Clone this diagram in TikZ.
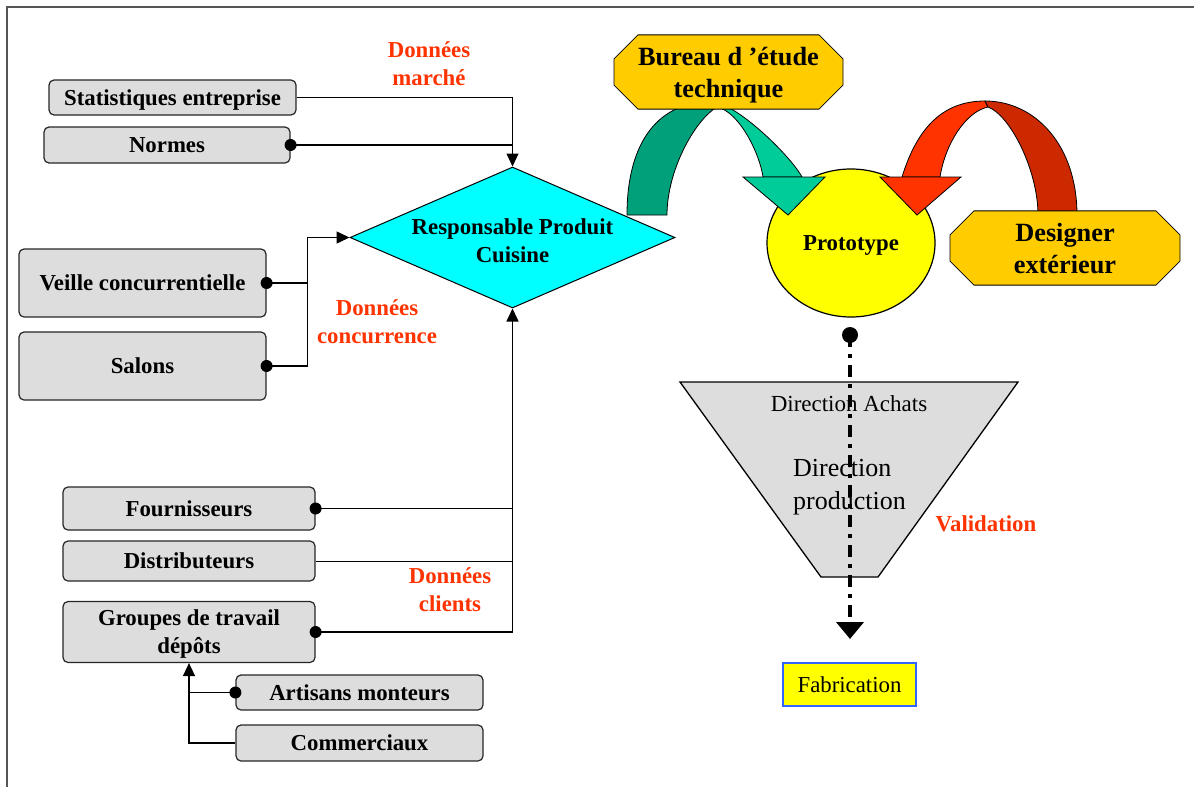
\documentclass[tikz,border=0pt]{standalone}
\usepackage{fontspec}
\setmainfont{Liberation Serif}
\usetikzlibrary{arrows.meta,shapes.geometric,shapes.misc}
\definecolor{boxgray}{HTML}{DDDDDD}
\definecolor{labelred}{HTML}{FF3300}
\definecolor{teallight}{HTML}{00CC99}
\definecolor{tealdark}{HTML}{00A07A}
\definecolor{redlight}{HTML}{FF3300}
\definecolor{reddark}{HTML}{CC2900}
\definecolor{gold}{HTML}{FFCC00}
\definecolor{framegray}{HTML}{555555}
\definecolor{fabblue}{HTML}{3366FF}
\definecolor{protoyellow}{HTML}{FFFF00}
\definecolor{rpcyan}{HTML}{00FFFF}

\begin{document}
\begin{tikzpicture}[x=1pt,y=-1pt,
  src/.style={draw=black!85, line width=1.2pt, fill=boxgray, rounded corners=5pt,
    inner sep=0pt, align=center, text depth=0pt,
    font=\fontsize{22.8}{28}\selectfont\bfseries},
  octo/.style={chamfered rectangle, chamfered rectangle xsep=12pt,
    chamfered rectangle ysep=12pt, draw=black, line width=0.8pt, fill=gold,
    inner sep=0pt, align=center, text depth=0pt,
    font=\fontsize{26.3}{32}\selectfont\bfseries},
  note/.style={text=labelred, align=center, inner sep=0pt,
    font=\fontsize{22.8}{28}\selectfont\bfseries},
  wire/.style={line width=1.5pt},
  thinwire/.style={line width=1pt},
  tip/.style={-{Triangle[length=13pt,width=12pt]}},
  ribbon/.style={draw=black, line width=0.8pt},
]
\useasboundingbox (0,0) rectangle (1194,787);

% page frame (top and left edges)
\draw[framegray, line width=1.4pt] (7,787) -- (7,7) -- (1194,7);

% prototype
\node[ellipse, draw=black, line width=1.2pt, fill=protoyellow, minimum width=168pt,
  minimum height=148pt, inner sep=0pt, text depth=0pt,
  font=\fontsize{22.8}{28}\selectfont\bfseries]
  (proto) at (851,243) {Prototype};

% curved arrow from the technical office: back face, front face, head
\fill[tealdark, ribbon]
  (627,215) .. controls (627,140) and (660,101) .. (712,102)
  -- (717,107) .. controls (695,120) and (667,170) .. (667,215) -- cycle;
\fill[teallight, ribbon]
  (712,102) .. controls (735,102) and (790,155) .. (802,177)
  -- (763,177) .. controls (760,155) and (740,112) .. (717,107) -- cycle;
\fill[teallight, ribbon] (743,177) -- (825,177) -- (788,215) -- cycle;

% curved arrow from the external designer: front face, back face, head
\fill[redlight, ribbon]
  (902,177) .. controls (918,125) and (945,101) .. (985,101)
  -- (988,107) .. controls (965,112) and (945,145) .. (940,177) -- cycle;
\fill[reddark, ribbon]
  (985,101) .. controls (1035,101) and (1077,145) .. (1077,215)
  -- (1038,215) .. controls (1038,170) and (1010,115) .. (988,107) -- cycle;
\fill[redlight, ribbon] (880,177) -- (961,177) -- (917,215) -- cycle;

% offices
\node[octo, minimum width=229pt, minimum height=67pt] (bureau) at (728.5,72)
  {Bureau d ’étude\\technique};
\node[octo, minimum width=230pt, minimum height=68pt] (designer) at (1065,248)
  {Designer\\extérieur};

% product manager
\node[diamond, draw=black, line width=1pt, fill=rpcyan, minimum width=325pt,
  minimum height=141pt, inner sep=0pt,
  label={[align=center, yshift=-3pt, font=\fontsize{22.8}{28}\selectfont\bfseries]center:Responsable Produit\\Cuisine}]
  (rp) at (512.5,237.5) {};

% information sources
\node[src, minimum width=247pt, minimum height=35pt] (stats) at (172.5,97.5) {Statistiques entreprise};
\node[src, minimum width=246pt, minimum height=36pt] (normes) at (167,145) {Normes};
\node[src, minimum width=247pt, minimum height=68pt] (veille) at (142.5,283) {Veille concurrentielle};
\node[src, minimum width=247pt, minimum height=68pt] (salons) at (142.5,366) {Salons};
\node[src, minimum width=252pt, minimum height=43pt] (fourn) at (189,508.5) {Fournisseurs};
\node[src, minimum width=252pt, minimum height=40pt] (distrib) at (189,561) {Distributeurs};
\node[src, minimum width=252pt, minimum height=61pt] (groupes) at (189,632) {Groupes de travail\\dépôts};
\node[src, minimum width=247pt, minimum height=35pt] (artisans) at (359.5,692.5) {Artisans monteurs};
\node[src, minimum width=247pt, minimum height=36pt] (comm) at (359.5,743) {Commerciaux};

% market data
\draw[thinwire, tip] (stats.east) -| (rp.north);
\draw[wire] (normes.east) -- (normes.east -| rp.north);
\fill (normes.east) circle[radius=6pt];

% competition data
\draw[wire] (veille.east) -- ++(41,0);
\draw[wire, tip] (salons.east) -- ++(41,0) |- (rp.west);
\fill (veille.east) circle[radius=6pt];
\fill (salons.east) circle[radius=6pt];

% customer data
\draw[wire, tip] (groupes.east) -| (rp.south);
\draw[wire] (fourn.east) -- (fourn.east -| rp.south);
\draw[thinwire] (distrib.east) -- (distrib.east -| rp.south);
\fill (fourn.east) circle[radius=6pt];
\fill (groupes.east) circle[radius=6pt];

% field feedback
\draw[wire, tip] (comm.west) -| (groupes.south);
\draw[wire] (artisans.west) -- (artisans.west -| groupes.south);
\fill (artisans.west) circle[radius=6pt];

% labels
\node[note] (lblmarche) at (429,63.5) {Données\\marché};
\node[note] (lblconc) at (377,322) {Données\\concurrence};
\node[note] (lblclients) at (450,590) {Données\\clients};
\node[note] (lblvalid) at (986,524) {Validation};

% validation funnel
\fill[boxgray, draw=black, line width=1.3pt] (680,382) -- (1018,382) -- (878,577) -- (821,577) -- cycle;
\node[inner sep=0pt, font=\fontsize{23}{28}\selectfont] (achats) at (849,404) {Direction Achats};
\node[inner sep=0pt, anchor=west, align=left, text depth=0pt,
  font=\fontsize{26}{33}\selectfont] (production) at (793,484) {Direction\\production};

% path to manufacturing
\coordinate (vstart) at (850,335);
\coordinate (vend) at (850,639);
\fill (vstart) circle[radius=8pt];
\draw[line width=4pt, dash pattern=on 12pt off 7pt on 4pt off 7pt,
  -{Triangle[length=17pt,width=27pt]}] (vstart) -- (vend);

\node[draw=fabblue, line width=2.5pt, fill=protoyellow, minimum width=133pt,
  minimum height=43pt, inner sep=0pt, text depth=0pt,
  font=\fontsize{22.8}{28}\selectfont]
  (fab) at (849.5,684.5) {Fabrication};
\end{tikzpicture}
\end{document}
